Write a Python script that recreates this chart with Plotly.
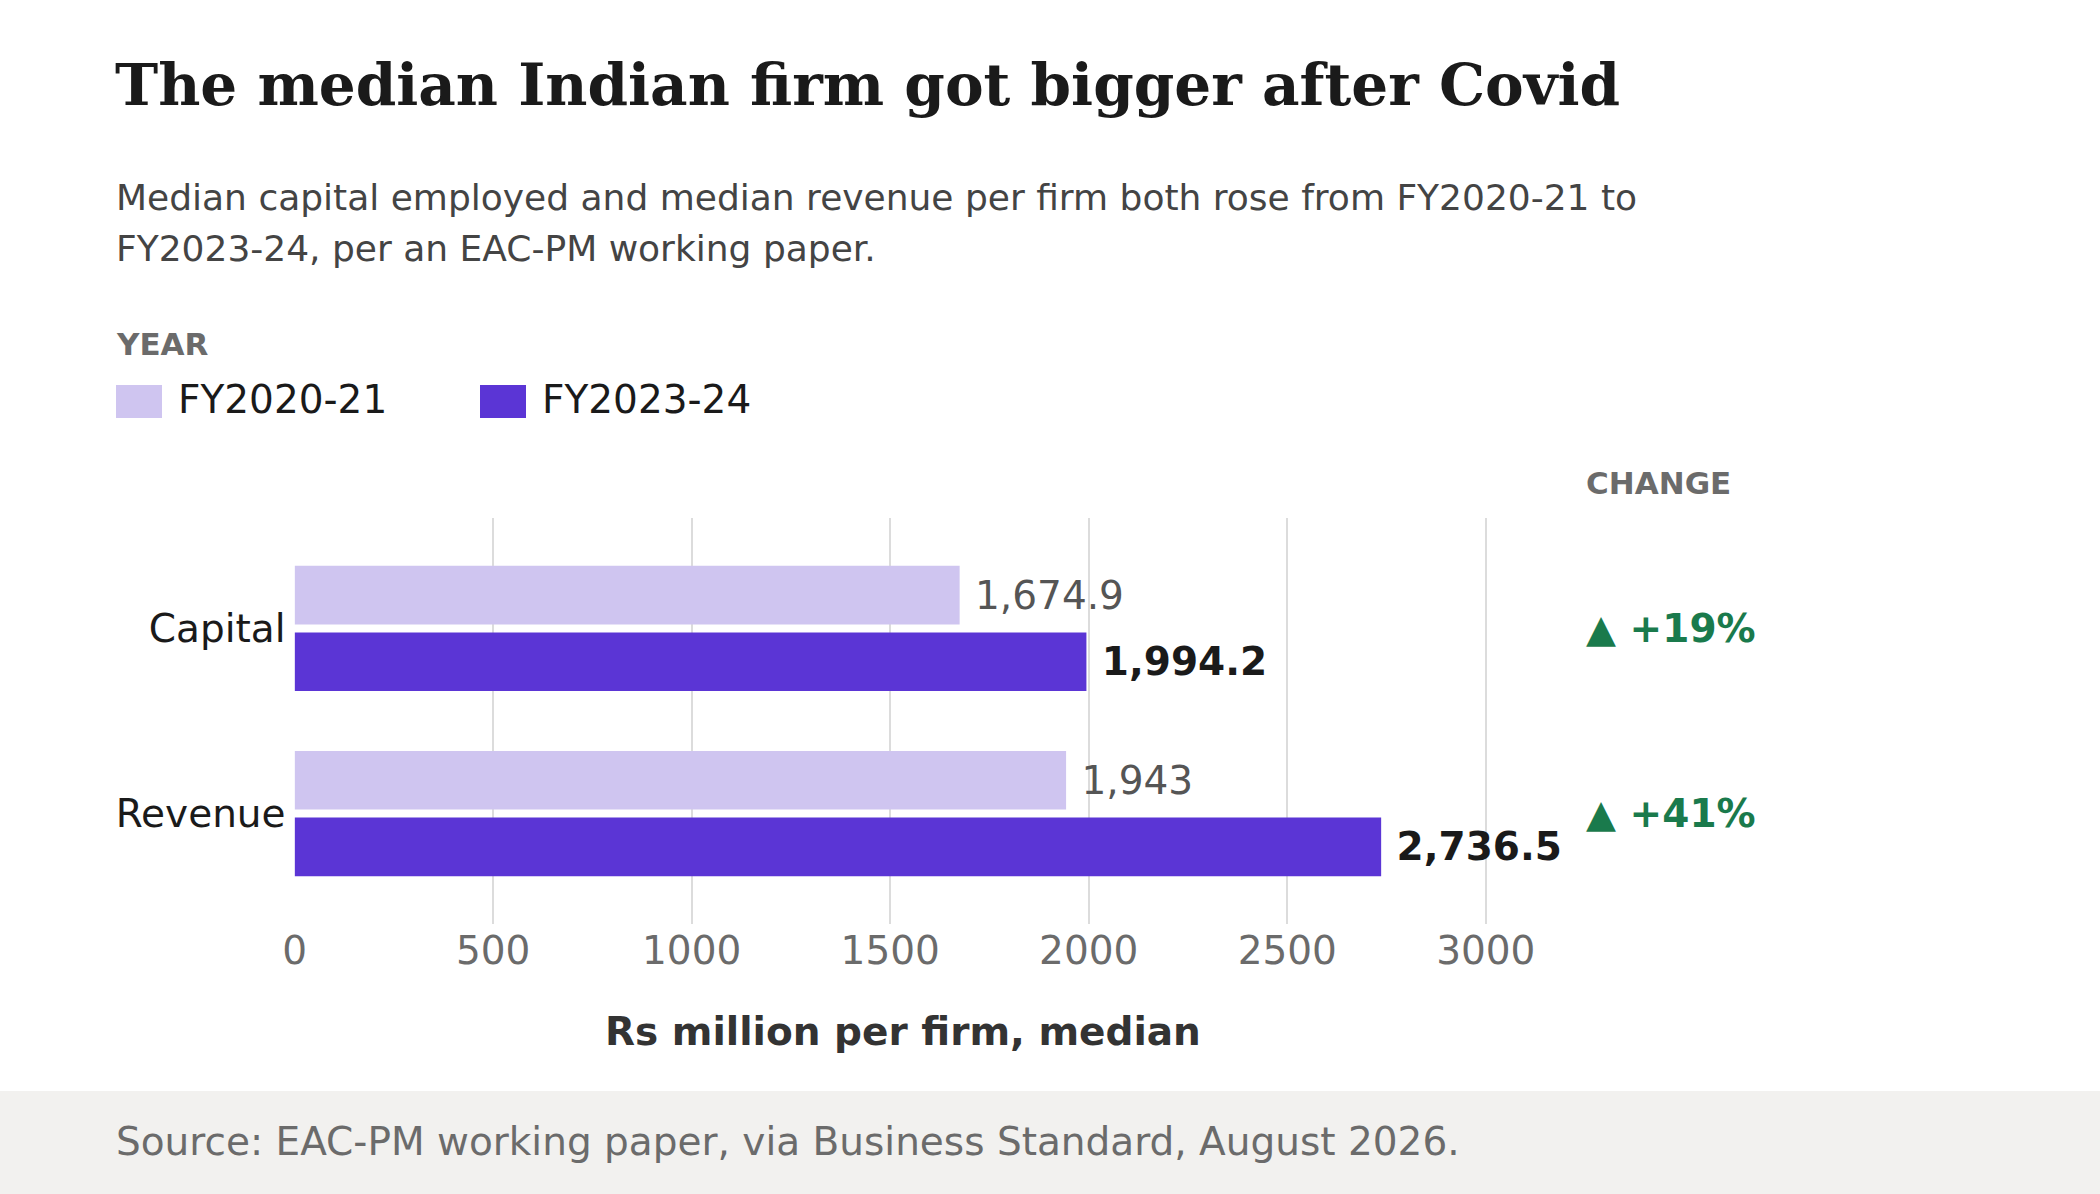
import plotly.graph_objects as go

W, H = 2100, 1194

# data
categories = ["Capital", "Revenue"]
years = ["FY2020-21", "FY2023-24"]
fy2021 = [1674.9, 1943.0]
fy2024 = [1994.2, 2736.5]
x_ticks = [0, 500, 1000, 1500, 2000, 2500, 3000]

LIGHT = "#cfc5f0"
DARK = "#5b35d5"
GREEN = "#1a7a4c"
SANS = "DejaVu Sans"
SERIF = "DejaVu Serif"
FS = 39


def px_x(v):
    return v / W


def px_y(v):
    return 1 - v / H


change = [round((b / a - 1) * 100) for a, b in zip(fy2021, fy2024)]

fig = go.Figure()
fig.add_bar(y=categories, x=fy2021, name=years[0], orientation="h",
            marker=dict(color=LIGHT, line=dict(width=0)),
            texttemplate="\u00a0%{x:,}", textposition="outside",
            textfont=dict(family=SANS, size=FS, color="#555555"),
            constraintext="none", cliponaxis=False)
fig.add_bar(y=categories, x=fy2024, name=years[1], orientation="h",
            marker=dict(color=DARK, line=dict(width=0)),
            texttemplate="\u00a0<b>%{x:,}</b>", textposition="outside",
            textfont=dict(family=SANS, size=FS, color="#1a1a1a"),
            constraintext="none", cliponaxis=False)

fig.update_layout(
    width=W, height=H,
    margin=dict(l=0, r=0, t=0, b=0),
    paper_bgcolor="white", plot_bgcolor="white",
    barmode="group", bargap=0.28, bargroupgap=0.12,
    showlegend=False,
    font=dict(family=SANS, color="#1a1a1a"),
)
fig.update_xaxes(domain=[px_x(294.6), px_x(1510)], range=[0, 3061],
                 tickvals=x_ticks, showgrid=True, gridcolor="#dcdcdc", gridwidth=2,
                 zeroline=False, showline=False, ticks="",
                 tickfont=dict(size=FS, color="#6b6b6b"), automargin=False)
fig.update_yaxes(domain=[px_y(924), px_y(518)], range=[1.597, -0.597],
                 showgrid=False, zeroline=False, showline=False, ticks="",
                 ticklabelstandoff=8,
                 tickfont=dict(size=FS, color="#1a1a1a"), automargin=False)

# footer band
fig.add_shape(type="rect", xref="paper", yref="paper", x0=0, x1=1,
              y0=0, y1=px_y(1091), fillcolor="#f2f1ef", line=dict(width=0), layer="below")

# legend swatches
for x0, col in [(116, LIGHT), (480, DARK)]:
    fig.add_shape(type="rect", xref="paper", yref="paper",
                  x0=px_x(x0), x1=px_x(x0 + 46), y0=px_y(418), y1=px_y(385),
                  fillcolor=col, line=dict(width=0))


def note(x, y, text, size, color, family=SANS, xanchor="left"):
    fig.add_annotation(xref="paper", yref="paper", x=px_x(x), y=px_y(y), text=text,
                       showarrow=False, xanchor=xanchor, yanchor="middle",
                       font=dict(family=family, size=size, color=color))


note(113, 85, "<b>The median Indian firm got bigger after Covid</b>", 58, "#1a1a1a", SERIF)
note(114, 198, "Median capital employed and median revenue per firm both rose from FY2020-21 to",
     36, "#444444")
note(114, 249, "FY2023-24, per an EAC-PM working paper.", 36, "#444444")
note(114, 344, "<b>YEAR</b>", 31, "#6b6b6b")
note(176, 400, years[0], FS, "#1a1a1a")
note(540, 400, years[1], FS, "#1a1a1a")
note(1584, 483, "<b>CHANGE</b>", 31, "#6b6b6b")
note(903, 1031, "<b>Rs million per firm, median</b>", FS, "#333333", xanchor="center")
note(114, 1141, "Source: EAC-PM working paper, via Business Standard, August 2026.", FS, "#6b6b6b")

for cat, pct in zip(categories, change):
    fig.add_annotation(xref="paper", yref="y", x=px_x(1584), y=cat,
                       text=f"<b>\u25b2 +{pct}%</b>", showarrow=False,
                       xanchor="left", yanchor="middle",
                       font=dict(family=SANS, size=FS, color=GREEN))

fig.write_html("out.html", config={"displayModeBar": False},
               post_script="document.body.style.margin='0';")
